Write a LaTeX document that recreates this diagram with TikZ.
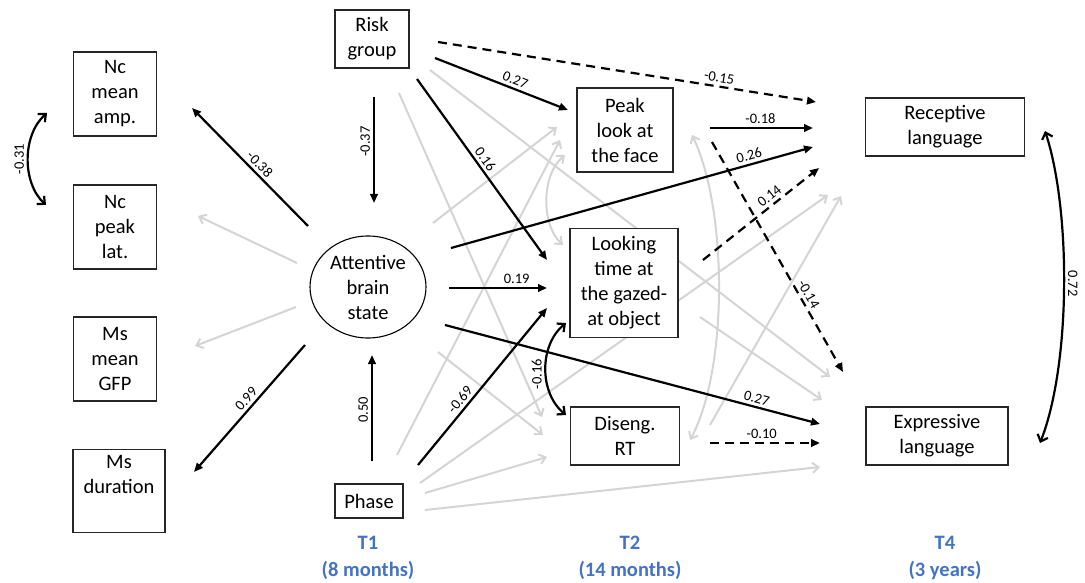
\documentclass[tikz,border=0pt]{standalone}
\usepackage{fontspec}
\setmainfont{Carlito}
\usepackage{tikz}
\usetikzlibrary{arrows.meta,shapes.geometric}
\definecolor{lightline}{RGB}{212,212,212}
\definecolor{timeblue}{RGB}{68,114,196}
\pgfdeclarelayer{background}
\pgfsetlayers{background,main}

\begin{document}
\begin{tikzpicture}[
      x=1pt, y=-1pt,
      box/.style={draw=black!85, line width=1.3pt, fill=white, inner sep=2pt, align=center,
        font=\fontsize{20.5}{25}\selectfont},
      state/.style={ellipse, draw, line width=1.1pt, fill=white, inner sep=0pt, align=center,
        minimum width=116pt, minimum height=102pt, font=\fontsize{20.5}{25}\selectfont},
      arr/.style={-{Triangle[length=9pt,width=7.5pt]}, line width=2.2pt},
      darr/.style={arr, dash pattern=on 9pt off 6pt},
      carr/.style={{Straight Barb[length=6pt,width=11pt]}-{Straight Barb[length=6pt,width=11pt]}, line width=2.2pt},
      garr/.style={-{Straight Barb[length=6pt,width=10pt]}, line width=2pt, draw=lightline},
      gcarr/.style={garr, {Straight Barb[length=6pt,width=10pt]}-{Straight Barb[length=6pt,width=10pt]}},
      coef/.style={font=\fontsize{14.5}{16}\selectfont, inner sep=3pt},
      time/.style={text=timeblue, align=center, font=\bfseries\fontsize{20.5}{27}\selectfont}
    ]
      \useasboundingbox (0,0) rectangle (1085,583);

      % T1
      \node[box, minimum width=83pt, minimum height=84pt] (nca) at (115,94) {Nc\\mean\\amp.};
      \node[box, minimum width=83pt, minimum height=84pt] (ncp) at (115,227) {Nc\\peak\\lat.};
      \node[box, minimum width=83pt, minimum height=84pt] (msg) at (115,359) {Ms\\mean\\GFP};
      \node[box, minimum width=92pt, minimum height=83pt] (msd) at (119,491) {Ms\\duration\\\strut};
      \node[box, minimum width=74pt, minimum height=58pt] (risk) at (372,39) {Risk\\group};
      \node[state] (att) at (368,287) {Attentive\\brain\\state};
      \node[box, minimum width=68pt, minimum height=34pt] (phase) at (369,501) {Phase};
      % T2
      \node[box, minimum width=96pt, minimum height=84pt] (peak) at (625,130) {Peak\\look at\\the face};
      \node[box, minimum width=108pt, minimum height=109pt] (look) at (624,283) {Looking\\time at\\the gazed-\\at object};
      \node[box, minimum width=109pt, minimum height=58pt] (dis) at (625,436) {Diseng.\\RT};
      % T4
      \node[box, minimum width=159pt, minimum height=58pt] (rec) at (945,127) {Receptive\\language};
      \node[box, minimum width=142pt, minimum height=58pt] (exp) at (937,436) {Expressive\\language};

      \node[time] (t1) at (368,558) {T1\\(8 months)};
      \node[time] (t2) at (630,558) {T2\\(14 months)};
      \node[time] (t4) at (945,558) {T4\\(3 years)};

      % arrow ends
      \coordinate (attnca-a) at (308,226);   \coordinate (attnca-b) at (192,108);
      \coordinate (attmsd-a) at (305,345);   \coordinate (attmsd-b) at (194,472);
      \coordinate (riskatt-a) at (374,97);   \coordinate (riskatt-b) at (374,203);
      \coordinate (phaseatt-a) at (372,461); \coordinate (phaseatt-b) at (372,355);
      \coordinate (riskpeak-a) at (435,58);  \coordinate (riskpeak-b) at (568,110);
      \coordinate (risklook-a) at (417,79);  \coordinate (risklook-b) at (547,260);
      \coordinate (riskrec-a) at (438,42);   \coordinate (riskrec-b) at (816,102);
      \coordinate (peakrec-a) at (710,128);  \coordinate (peakrec-b) at (813,128);
      \coordinate (attrec-a) at (451,248);   \coordinate (attrec-b) at (813,147);
      \coordinate (peakexp-a) at (712,142);  \coordinate (peakexp-b) at (843,372);
      \coordinate (lookrec-a) at (703,260);  \coordinate (lookrec-b) at (819,168);
      \coordinate (attlook-a) at (449,288);  \coordinate (attlook-b) at (547,288);
      \coordinate (phaselook-a) at (418,465); \coordinate (phaselook-b) at (547,308);
      \coordinate (attexp-a) at (445,325);   \coordinate (attexp-b) at (820,424);
      \coordinate (disexp-a) at (710,443);   \coordinate (disexp-b) at (820,443);
      \coordinate (nc-a) at (47,113);        \coordinate (nc-b) at (46,205);
      \coordinate (lookdis-a) at (566,323);  \coordinate (lookdis-b) at (566,415);
      \coordinate (lang-a) at (1045,131);    \coordinate (lang-b) at (1040,443);

      \coordinate (attncp-a) at (297,263);   \coordinate (attncp-b) at (198,216);
      \coordinate (attmsg-a) at (296,307);   \coordinate (attmsg-b) at (195,346);
      \coordinate (riskdis-a) at (399,93);   \coordinate (riskdis-b) at (542,417);
      \coordinate (riskexp-a) at (430,70);   \coordinate (riskexp-b) at (830,377);
      \coordinate (attpeak-a) at (433,223);  \coordinate (attpeak-b) at (557,127);
      \coordinate (phasepeak-a) at (397,455); \coordinate (phasepeak-b) at (560,140);
      \coordinate (peaklook-a) at (565,155); \coordinate (peaklook-b) at (563,245);
      \coordinate (attdis-a) at (438,352);   \coordinate (attdis-b) at (543,435);
      \coordinate (phasedis-a) at (425,493); \coordinate (phasedis-b) at (547,457);
      \coordinate (phaserec-a) at (420,483); \coordinate (phaserec-b) at (828,195);
      \coordinate (phaseexp-a) at (425,510); \coordinate (phaseexp-b) at (820,467);
      \coordinate (lookexp-a) at (700,317);  \coordinate (lookexp-b) at (822,400);
      \coordinate (disrec-a) at (710,425);   \coordinate (disrec-b) at (841,196);
      \coordinate (peakdis-a) at (692,135);  \coordinate (peakdis-b) at (690,440);

      \begin{pgfonlayer}{background}
        % non-significant paths
        \draw[garr] (attncp-a) -- (attncp-b);
        \draw[garr] (attmsg-a) -- (attmsg-b);
        \draw[garr] (riskdis-a) -- (riskdis-b);
        \draw[garr] (riskexp-a) -- (riskexp-b);
        \draw[garr] (attpeak-a) -- (attpeak-b);
        \draw[garr] (phasepeak-a) -- (phasepeak-b);
        \draw[garr] (attdis-a) -- (attdis-b);
        \draw[garr] (phasedis-a) -- (phasedis-b);
        \draw[garr] (phaserec-a) -- (phaserec-b);
        \draw[garr] (phaseexp-a) -- (phaseexp-b);
        \draw[garr] (lookexp-a) -- (lookexp-b);
        \draw[garr] (disrec-a) -- (disrec-b);
        \draw[gcarr] (peaklook-a) .. controls (541,175) and (541,225) .. (peaklook-b);
        \draw[gcarr] (peakdis-a) .. controls (728,210) and (728,370) .. (peakdis-b);

        % significant paths
        \draw[arr] (attnca-a) -- node[coef, pos=.47, sloped, above] {-0.38} (attnca-b);
        \draw[arr] (attmsd-a) -- node[coef, pos=.47, sloped, above] {0.99} (attmsd-b);
        \draw[arr] (riskatt-a) -- node[coef, pos=.42, above, rotate=90] {-0.37} (riskatt-b);
        \draw[arr] (phaseatt-a) -- node[coef, pos=.48, above, rotate=90] {0.50} (phaseatt-b);
        \draw[arr] (riskpeak-a) -- node[coef, pos=.58, sloped, above] {0.27} (riskpeak-b);
        \draw[arr] (risklook-a) -- node[coef, pos=.47, sloped, above] {0.16} (risklook-b);
        \draw[darr] (riskrec-a) -- node[coef, pos=.74, sloped, above] {-0.15} (riskrec-b);
        \draw[arr] (peakrec-a) -- node[coef, pos=.49, above] {-0.18} (peakrec-b);
        \draw[arr] (attrec-a) -- node[coef, pos=.83, sloped, above] {0.26} (attrec-b);
        \draw[darr] (peakexp-a) -- node[coef, pos=.68, sloped, above] {-0.14} (peakexp-b);
        \draw[darr] (lookrec-a) -- node[coef, pos=.62, sloped, above] {0.14} (lookrec-b);
        \draw[arr] (attlook-a) -- node[coef, pos=.69, above] {0.19} (attlook-b);
        \draw[arr] (phaselook-a) -- node[coef, pos=.38, sloped, above] {-0.69} (phaselook-b);
        \draw[arr] (attexp-a) -- node[coef, pos=.825, sloped, above] {0.27} (attexp-b);
        \draw[darr] (disexp-a) -- node[coef, pos=.47, above] {-0.10} (disexp-b);
        \draw[carr] (nc-a) .. controls (22,135) and (22,183) .. node[coef, pos=.5, above, rotate=90] {-0.31} (nc-b);
        \draw[carr] (lookdis-a) .. controls (539,345) and (539,393) .. node[coef, pos=.55, above, rotate=90] {-0.16} (lookdis-b);
        \draw[carr] (lang-a) .. controls (1071,210) and (1071,364) .. node[coef, pos=.49, above, rotate=-90] {0.72} (lang-b);
      \end{pgfonlayer}
    \end{tikzpicture}
\end{document}
